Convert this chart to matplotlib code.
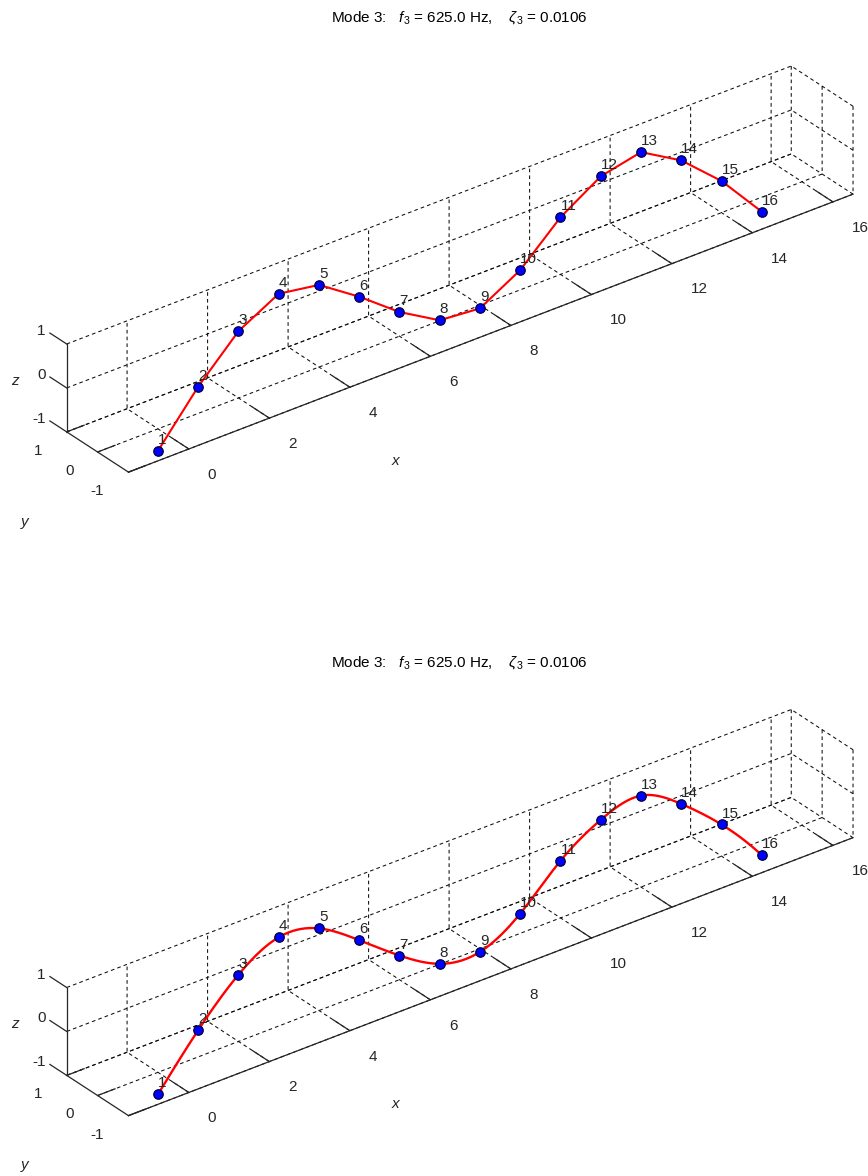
import numpy as np
import matplotlib
matplotlib.use("Agg")
import matplotlib.pyplot as plt
from mpl_toolkits.mplot3d import proj3d

# ---------------- data ----------------
node_ids = list(range(1, 17))
node_x = [0, 1, 2, 3, 4, 5, 6, 7, 8, 9, 10, 11, 12, 13, 14, 15]
node_y = [0] * 16
node_z = [-1.50, -0.39, 0.52, 1.02, 0.87, 0.25, -0.45, -0.99,
          -1.07, -0.55, 0.30, 0.88, 1.08, 0.54, -0.28, -1.33]
mode_number = 3
freq_hz = 625.0
damping = 0.0106
x_ticks = [0, 2, 4, 6, 8, 10, 12, 14, 16]
y_ticks = [-1, 0, 1]
z_ticks = [-1, 0, 1]
x_lim = (-1.5, 16.5)
y_lim = (-1, 1)
z_lim = (-1, 1)

plt.rcParams["font.family"] = ["Liberation Sans", "DejaVu Sans"]
plt.rcParams["mathtext.fontset"] = "custom"
plt.rcParams["mathtext.rm"] = "Liberation Sans"
plt.rcParams["mathtext.it"] = "Liberation Sans:italic"

W, H = 868, 1176
TXT = "0.15"
FS = 11


def spline_curve(xk, yk, n_per=20):
    xk = np.asarray(xk, float)
    yk = np.asarray(yk, float)
    n = len(xk)
    h = np.diff(xk)
    A = np.zeros((n, n))
    r = np.zeros(n)
    for i in range(1, n - 1):
        A[i, i - 1] = h[i - 1]
        A[i, i] = 2 * (h[i - 1] + h[i])
        A[i, i + 1] = h[i]
        r[i] = 6 * ((yk[i + 1] - yk[i]) / h[i] - (yk[i] - yk[i - 1]) / h[i - 1])
    A[0, 0] = h[1]; A[0, 1] = -(h[0] + h[1]); A[0, 2] = h[0]
    A[-1, -3] = h[-1]; A[-1, -2] = -(h[-2] + h[-1]); A[-1, -1] = h[-2]
    M = np.linalg.solve(A, r)
    xs = np.linspace(xk[0], xk[-1], (n - 1) * n_per + 1)
    idx = np.clip(np.searchsorted(xk, xs, side="right") - 1, 0, n - 2)
    x0 = xk[idx]; x1 = xk[idx + 1]; hh = x1 - x0
    t0 = x1 - xs; t1 = xs - x0
    ys = ((M[idx] * t0 ** 3 + M[idx + 1] * t1 ** 3) / (6 * hh)
          + (yk[idx] / hh - M[idx] * hh / 6) * t0
          + (yk[idx + 1] / hh - M[idx + 1] * hh / 6) * t1)
    return xs, ys


fig = plt.figure(figsize=(W / 100, H / 100), dpi=100)


def label3d(ax, x, y, z, s, **kw):
    """Put a plain text at the projected position of a 3-D data point."""
    xs, ys, _ = proj3d.proj_transform(x, y, z, ax.M)
    return ax.text2D(float(xs), float(ys), s, transform=ax.transData,
                     fontsize=FS, color=TXT, zorder=5, **kw)


def make_panel(dy, smooth):
    ax = fig.add_axes([0, 0, 1, 1], projection="3d", computed_zorder=False)
    ax.set_proj_type("ortho")
    ax.view_init(elev=30, azim=-127.5)
    ax.set_xlim(*x_lim); ax.set_ylim(*y_lim); ax.set_zlim(*z_lim)
    ax.set_box_aspect((x_lim[1] - x_lim[0], y_lim[1] - y_lim[0], z_lim[1] - z_lim[0]))
    ax.set_facecolor("none")
    ax.set_xticks(x_ticks); ax.set_yticks(y_ticks); ax.set_zticks(z_ticks)
    outs = {"x": 3.4, "y": 0.3, "z": 3.4}
    for name, axis in (("x", ax.xaxis), ("y", ax.yaxis), ("z", ax.zaxis)):
        axis.set_pane_color((1, 1, 1, 0))
        axis.pane.set_edgecolor((1, 1, 1, 0))
        axis.line.set_color(TXT)
        axis.line.set_linewidth(0.9)
        axis._axinfo["grid"].update(color="0.05", linestyle=(0, (3.5, 3.0)), linewidth=0.75)
        axis._axinfo["tick"].update(inward_factor=0.0, outward_factor=outs[name])
        axis._axinfo["tick"]["linewidth"] = {True: 0.9, False: 0.9}
        axis.set_tick_params(colors=TXT, label1On=False, label2On=False)
        axis.label.set_visible(False)
        axis.offsetText.set_visible(False)
    # z tick marks point toward +y (back), as in the reference
    ax.zaxis._get_tickdir = lambda position=None: 1

    if smooth:
        cx, cz = spline_curve(node_x, node_z)
        cy = np.interp(cx, node_x, node_y)
        ax.plot(cx, cy, cz, color="red", lw=1.7, zorder=2)
    else:
        ax.plot(node_x, node_y, node_z, color="red", lw=1.5, zorder=2)
    ax.plot(node_x, node_y, node_z, ls="none", marker="o", ms=6.8,
            mfc="#0000ff", mec="#00003a", mew=0.9, zorder=3)

    # calibrate position so the box lands where the reference has it
    A3 = (x_lim[0], y_lim[1], z_lim[1]); tA = np.array([66.7, H - (344 + dy)])
    B3 = (x_lim[1], y_lim[0], z_lim[0]); tB = np.array([853.0, H - (194 + dy)])
    for _ in range(2):
        fig.canvas.draw()
        def disp(p):
            xs, ys, _ = proj3d.proj_transform(p[0], p[1], p[2], ax.M)
            return np.array(ax.transData.transform((xs, ys)))
        a = disp(A3); b = disp(B3)
        s = np.linalg.norm(tB - tA) / np.linalg.norm(b - a)
        bb = ax.bbox
        c = np.array([(bb.x0 + bb.x1) / 2, (bb.y0 + bb.y1) / 2])
        w = bb.width * s
        cn = tA - s * (a - c)
        ax.set_position([(cn[0] - w / 2) / W, (cn[1] - w / 2) / H, w / W, w / H])
    fig.canvas.draw()

    # node numbers
    for i, xv, yv, zv in zip(node_ids, node_x, node_y, node_z):
        label3d(ax, xv, yv, zv + 0.25, str(i), ha="left", va="center")
    # tick labels beside their axes (MATLAB-like placement)
    for xt in x_ticks:
        label3d(ax, xt - 0.33, y_lim[0] - 1.03, z_lim[0], str(xt), ha="left", va="center")
    for yt in y_ticks:
        label3d(ax, x_lim[0] - 0.6, yt, z_lim[0] - 0.22, str(yt), ha="right", va="center")
    for zt in z_ticks:
        label3d(ax, x_lim[0] - 0.02, y_lim[1] + 0.66, zt, str(zt), ha="right", va="center")

    title = (f"Mode {mode_number}:   $f_{{{mode_number}}}$ = {freq_hz:.1f} Hz,    "
             f"$\\zeta_{{{mode_number}}}$ = {damping:.4f}")
    fig.text(459 / W, 1 - (18 + dy * 645 / 643.5) / H, title, ha="center", va="center",
             fontsize=FS, color="black")
    fig.text(395 / W, 1 - (461 + dy) / H, "x", ha="center", va="center",
             fontsize=FS, style="italic", color=TXT)
    fig.text(25 / W, 1 - (522 + dy) / H, "y", ha="center", va="center",
             fontsize=FS, style="italic", color=TXT)
    fig.text(15 / W, 1 - (381 + dy) / H, "z", ha="center", va="center",
             fontsize=FS, style="italic", color=TXT)
    return ax


make_panel(0, smooth=False)
make_panel(643.5, smooth=True)
fig.savefig("out.png", dpi=100)
